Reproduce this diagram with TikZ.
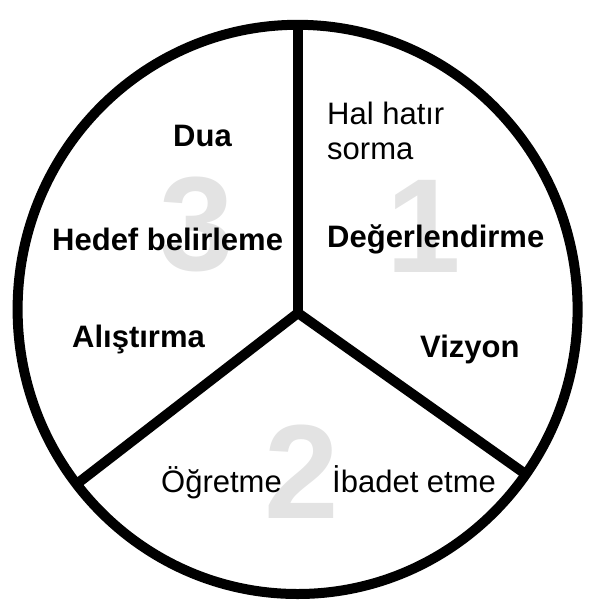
\documentclass[tikz,border=0pt]{standalone}
\usepackage{fontspec}
\setmainfont{Liberation Sans}
\definecolor{numgray}{HTML}{E3E3E3}
\tikzset{
  lbl/.style={inner sep=0pt, anchor=base west, font=\fontsize{31}{35}\selectfont},
  boldlbl/.style={lbl, font=\fontsize{31}{35}\selectfont\bfseries},
  bignum/.style={inner sep=0pt, text=numgray, font=\fontsize{134}{134}\selectfont\bfseries},
}
\begin{document}
\begin{tikzpicture}[x=1pt,y=-1pt]
  \useasboundingbox (0,0) rectangle (592,600);

  % big numbers behind the texts
  \node[bignum] (one)   at (424,226) {1};
  \node[bignum] (two)   at (302,472) {2};
  \node[bignum] (three) at (197,224) {3};

  % wheel
  \coordinate (hub)  at (298,313);
  \coordinate (top)  at (298,25);
  \coordinate (lowl) at (78,483);
  \coordinate (lowr) at (524,473);
  \draw[line width=10pt] (297.6,309.4) ellipse (280 and 284.6);
  \draw[line width=10pt] (hub) -- (top);
  \draw[line width=10pt] (hub) -- (lowl);
  \draw[line width=10pt] (hub) -- (lowr);

  % sector 1
  \node[lbl,align=left] (hal) at (327,159) {Hal hatır\\sorma};
  \node[boldlbl] (deger)  at (327,247) {Değerlendirme};
  \node[boldlbl] (vizyon) at (420,357) {Vizyon};
  % sector 2
  \node[lbl] (ogret)  at (161,492) {Öğretme};
  \node[lbl] (ibadet) at (332,492) {İbadet etme};
  % sector 3
  \node[boldlbl] (dua)   at (173,146) {Dua};
  \node[boldlbl] (hedef) at (52,250)  {Hedef belirleme};
  \node[boldlbl] (alis)  at (72,347)  {Alıştırma};
\end{tikzpicture}
\end{document}
